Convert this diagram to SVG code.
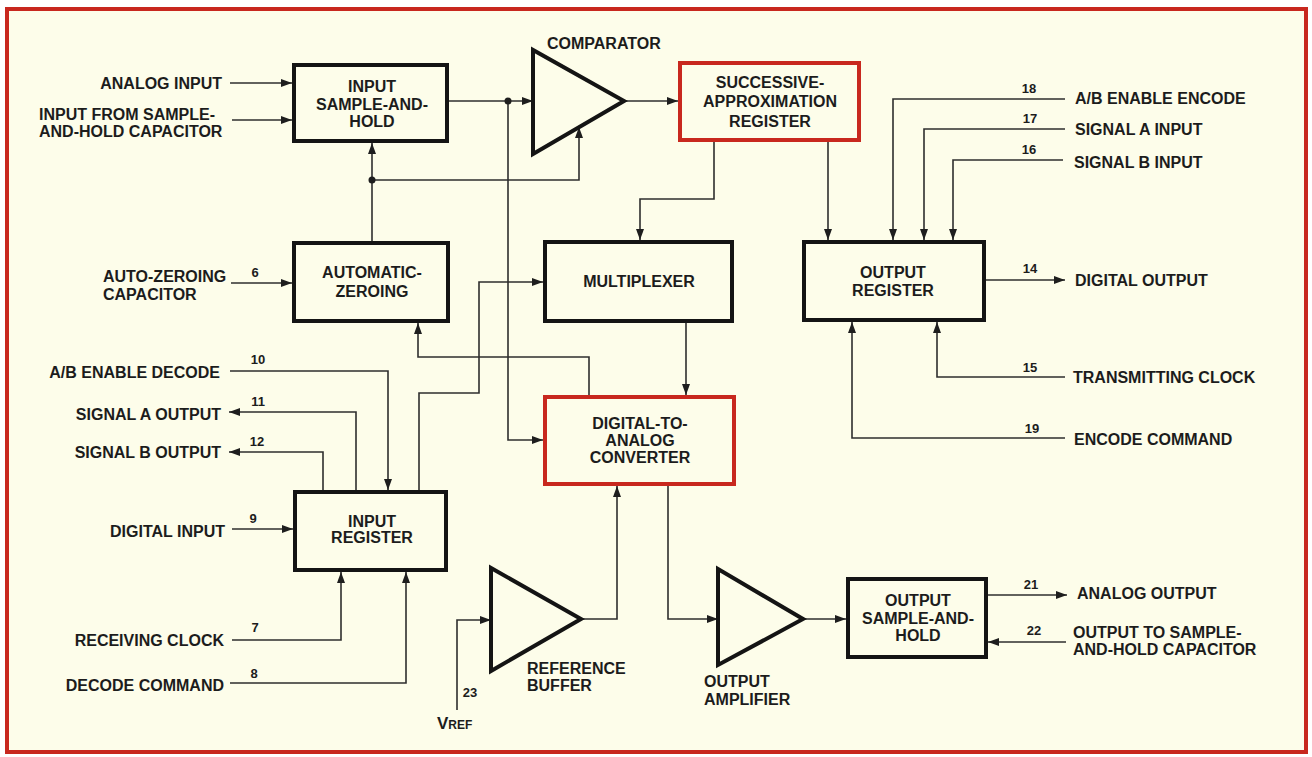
<svg xmlns="http://www.w3.org/2000/svg" width="1312" height="757" viewBox="0 0 1312 757">
<defs>
<marker id="ah" markerUnits="userSpaceOnUse" markerWidth="12" markerHeight="9" refX="11" refY="4" orient="auto">
<path d="M0,0 L11,4 L0,8 z" fill="#1e1e1e"/>
</marker>
<style>
text{font-family:"Liberation Sans",Arial,sans-serif;font-weight:bold;font-size:16px;fill:#1c1c1c}
.num{font-size:13px}
.c{text-anchor:middle}
.e{text-anchor:end}
.box{fill:none;stroke:#141414;stroke-width:4}
.red{fill:none;stroke:#c8281e;stroke-width:4}
.amp{fill:none;stroke:#141414;stroke-width:4;stroke-linejoin:miter}
#connectors path{fill:none;stroke:#2e2e2e;stroke-width:1.6}
.arr{marker-end:url(#ah)}
.dot{fill:#1e1e1e}
</style>
</defs>
<rect x="0" y="0" width="1312" height="757" fill="#ffffff"/>
<rect x="7" y="9" width="1299" height="743" fill="#fdfdea" stroke="#c8281e" stroke-width="4"/>

<g id="connectors">
<path class="arr" d="M230,83 H292"/>
<path class="arr" d="M232,120 H292"/>
<path class="arr" d="M231,283 H292"/>
<path class="arr" d="M372,241 V143"/>
<path class="arr" d="M372,180 H579 V127"/>
<path class="arr" d="M449,101 H533"/>
<path class="arr" d="M508,101 V440 H543"/>
<path class="arr" d="M624,101 H678"/>
<path class="arr" d="M714,142 V199 H640 V240"/>
<path class="arr" d="M828,142 V240"/>
<path class="arr" d="M686,323 V395"/>
<path class="arr" d="M589,395 V357 H418 V323"/>
<path class="arr" d="M419,490 V393 H479 V282 H543"/>
<path class="arr" d="M230,371 H388 V490"/>
<path class="arr" d="M356,490 V412 H229"/>
<path class="arr" d="M323,490 V452 H229"/>
<path class="arr" d="M232,529 H293"/>
<path class="arr" d="M232,640 H341 V572"/>
<path class="arr" d="M230,683 H406 V572"/>
<path class="arr" d="M457,710 V620 H491"/>
<path class="arr" d="M581,619 H617 V486"/>
<path class="arr" d="M668,486 V619 H718"/>
<path class="arr" d="M803,619 H846"/>
<path class="arr" d="M988,595 H1067"/>
<path class="arr" d="M1066,642 H988"/>
<path class="arr" d="M1065,99 H893 V240"/>
<path class="arr" d="M1065,129 H924 V240"/>
<path class="arr" d="M1063,160 H953 V240"/>
<path class="arr" d="M986,280 H1065"/>
<path class="arr" d="M1065,377 H937 V322"/>
<path class="arr" d="M1065,438 H852 V322"/>
<circle class="dot" cx="372" cy="180" r="3.5"/>
<circle class="dot" cx="508" cy="101" r="3.5"/>
</g>

<g id="input-sample-and-hold">
<rect class="box" x="294" y="65" width="153" height="76"/>
<text class="c" x="372" y="92">INPUT</text>
<text class="c" x="372" y="110">SAMPLE-AND-</text>
<text class="c" x="372" y="127">HOLD</text>
</g>
<g id="automatic-zeroing">
<rect class="box" x="294" y="243" width="154" height="78"/>
<text class="c" x="372" y="278">AUTOMATIC-</text>
<text class="c" x="372" y="297">ZEROING</text>
</g>
<g id="input-register">
<rect class="box" x="295" y="492" width="151" height="78"/>
<text class="c" x="372" y="527">INPUT</text>
<text class="c" x="372" y="543">REGISTER</text>
</g>
<g id="comparator">
<polygon class="amp" points="533,50 533,154 624,101"/>
<text x="547" y="49">COMPARATOR</text>
</g>
<g id="sar">
<rect class="red" x="680" y="63" width="179" height="77"/>
<text class="c" x="770" y="88">SUCCESSIVE-</text>
<text class="c" x="770" y="107">APPROXIMATION</text>
<text class="c" x="770" y="127">REGISTER</text>
</g>
<g id="multiplexer">
<rect class="box" x="545" y="242" width="187" height="79"/>
<text class="c" x="639" y="287">MULTIPLEXER</text>
</g>
<g id="dac">
<rect class="red" x="545" y="397" width="189" height="87"/>
<text class="c" x="640" y="429">DIGITAL-TO-</text>
<text class="c" x="640" y="446">ANALOG</text>
<text class="c" x="640" y="463">CONVERTER</text>
</g>
<g id="output-register">
<rect class="box" x="804" y="242" width="180" height="78"/>
<text class="c" x="893" y="278">OUTPUT</text>
<text class="c" x="893" y="296">REGISTER</text>
</g>
<g id="reference-buffer">
<polygon class="amp" points="491,568 491,671 581,619"/>
<text x="527" y="674">REFERENCE</text>
<text x="527" y="691">BUFFER</text>
</g>
<g id="output-amplifier">
<polygon class="amp" points="718,569 718,665 803,619"/>
<text x="704" y="687">OUTPUT</text>
<text x="704" y="705">AMPLIFIER</text>
</g>
<g id="output-sample-and-hold">
<rect class="box" x="848" y="579" width="138" height="78"/>
<text class="c" x="918" y="606">OUTPUT</text>
<text class="c" x="918" y="624">SAMPLE-AND-</text>
<text class="c" x="918" y="641">HOLD</text>
</g>

<g id="left-labels">
<text class="e" x="222" y="89">ANALOG INPUT</text>
<text x="39" y="120">INPUT FROM SAMPLE-</text>
<text x="39" y="137">AND-HOLD CAPACITOR</text>
<text x="103" y="282">AUTO-ZEROING</text>
<text x="103" y="300">CAPACITOR</text>
<text class="num c" x="255" y="277">6</text>
<text class="e" x="220" y="378">A/B ENABLE DECODE</text>
<text class="num c" x="258" y="364">10</text>
<text class="e" x="221" y="420">SIGNAL A OUTPUT</text>
<text class="num c" x="258" y="406">11</text>
<text class="e" x="221" y="458">SIGNAL B OUTPUT</text>
<text class="num c" x="257" y="446">12</text>
<text class="e" x="225" y="537">DIGITAL INPUT</text>
<text class="num c" x="253" y="523">9</text>
<text class="e" x="224" y="646">RECEIVING CLOCK</text>
<text class="num c" x="255" y="632">7</text>
<text class="e" x="224" y="691">DECODE COMMAND</text>
<text class="num c" x="254" y="678">8</text>
<text class="num c" x="470" y="697">23</text>
<text x="437" y="729" style="font-size:17px">V<tspan style="font-size:12px">REF</tspan></text>
</g>

<g id="right-labels">
<text x="1075" y="104">A/B ENABLE ENCODE</text>
<text class="num c" x="1029" y="93">18</text>
<text x="1075" y="135">SIGNAL A INPUT</text>
<text class="num c" x="1030" y="123">17</text>
<text x="1074" y="168">SIGNAL B INPUT</text>
<text class="num c" x="1029" y="154">16</text>
<text x="1075" y="286">DIGITAL OUTPUT</text>
<text class="num c" x="1030" y="273">14</text>
<text x="1073" y="383">TRANSMITTING CLOCK</text>
<text class="num c" x="1030" y="372">15</text>
<text x="1074" y="445">ENCODE COMMAND</text>
<text class="num c" x="1032" y="433">19</text>
<text x="1077" y="599">ANALOG OUTPUT</text>
<text class="num c" x="1031" y="589">21</text>
<text x="1073" y="638">OUTPUT TO SAMPLE-</text>
<text x="1073" y="655">AND-HOLD CAPACITOR</text>
<text class="num c" x="1034" y="635">22</text>
</g>
</svg>
